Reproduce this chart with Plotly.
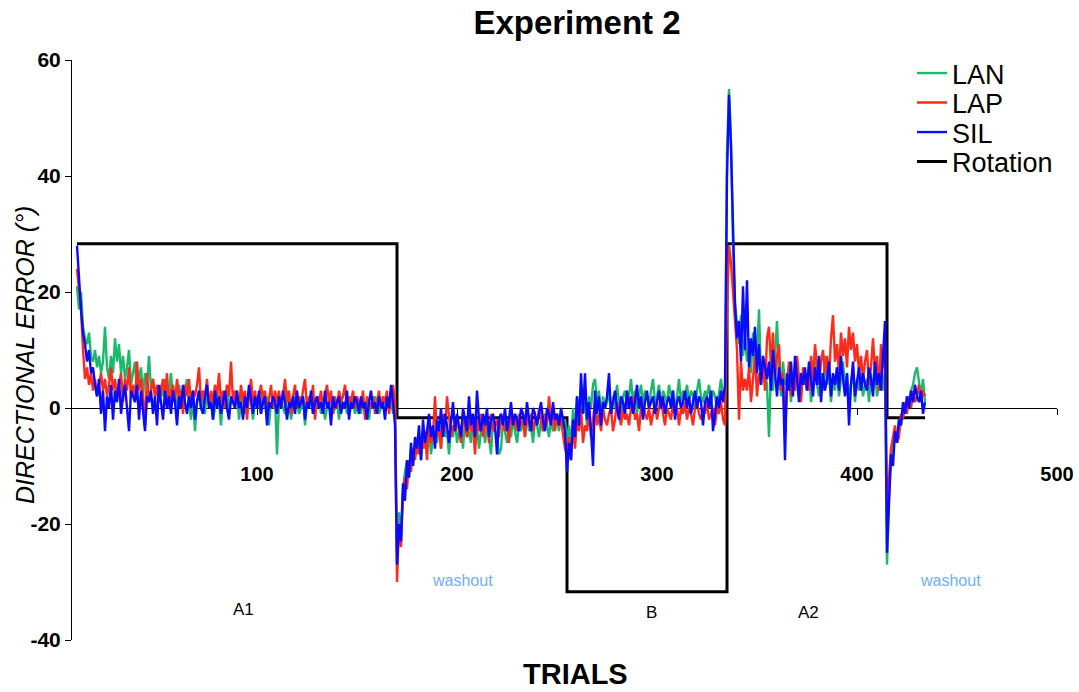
import plotly.graph_objects as go

# ---------------- data ----------------
phase_start = [10, 170, 255, 335, 415]   # first trial of A1, washout, B, A2, washout
phase_end = 434
rotation_deg = [28.3, -1.7, -31.7, 28.3, -1.7]

x_tickvals = [100, 200, 300, 400, 500]
y_tickvals = [-40, -20, 0, 20, 40, 60]
y_ticktext = ["-40", "-20", "0", "20", "40", "60"]

# LAN (green)
lan_a1 = [21, 17, 20, 14, 12, 11, 13, 9, 8, 10,
          7, 9, 6, 8, 14, 7, 5, 9, 6, 12,
          8, 11, 6, 9, 5, 7, 10, 4, 6, 8,
          3, 5, 7, 2, 6, 4, 9, 3, 5, 2,
          3, 1, 4, 2, 5, 0, 3, 6, 1, 2,
          -1, 4, 2, 0, 3, 5, 1, -2, 2, -4,
          1, 3, 0, 2, -1, 4, 1, 2, -2, 0,
          3, 1, -3, 2, 0, 4, -1, 1, 2, 0,
          3, -2, 1, 2, -1, 0, 3, 1, -2, 2,
          0, 1, -1, 3, 0, 2, -3, 1, 0, 2,
          -8, 1, 2, 0, -1, 3, 1, -2, 0, 2,
          1, -1, 0, 2, -3, 1, 0, 2, -1, 1,
          0, 2, -1, 1, -2, 0, 1, 2, -1, 0,
          1, -2, 2, 0, 1, -1, 0, 2, 1, -1,
          0, 1, -1, 2, 0, 1, -2, 1, 0, 2,
          1, -1, 0, 2, 1, 0, 1, 2, -1, 1]
lan_wo1 = [-25, -18, -22, -14, -11, -9, -12, -7, -10, -6,
           -8, -5, -9, -4, -7, -6, -3, -8, -5, -4,
           -6, -3, -7, -2, -5, -4, -8, -3, -5, -2,
           -6, -4, -3, -7, -2, -5, -4, -6, -1, -5,
           -3, -7, -4, -2, -6, -3, -5, -8, -2, -4,
           -5, -8, -7, -2, -4, -6, -3, -5, -2, -4,
           -6, -3, -4, -2, -5, -1, -4, -3, -6, -2,
           -3, -5, -2, -4, -1, -3, -5, -2, -4, -3,
           -2, -4, -1, -3, -2]
lan_b = [-6, -3, -7, 0, -4, 2, -2, 3, -1, 1,
         -3, 2, 0, 4, 5, 1, 3, -2, 2, 0,
         1, 3, -1, 2, 0, 4, 1, -1, 2, 3,
         0, 2, 5, 1, 3, -1, 2, 4, 1, 3,
         2, 0, 3, 5, 1, 2, 4, 0, 3, 2,
         1, 4, 2, 3, 0, 2, 5, 1, 3, 2,
         4, 1, 3, 2, 0, 3, 5, 2, 1, 3,
         2, 4, 1, 3, 2, 0, 3, 5, 2, 1]
lan_a2 = [44, 55, 46, 28, 18, 14, 11, 16, 9, 12,
          8, 10, 6, 13, 7, 9, 17, 5, 8, 6,
          4, -5, 7, 3, 9, 15, 6, 2, 8, 4,
          5, 7, 1, 6, 3, 8, 4, 2, 6, 5,
          3, 7, 1, 5, 8, 4, 2, 6, 3, 9,
          4, 6, 1, 5, 3, 7, 2, 5, 8, 3,
          6, 2, 4, 7, 1, 5, 3, 6, 2, 4,
          5, 1, 6, 3, 7, 2, 4, 8, 3, 6]
lan_wo2 = [-27, -15, -9, -6, -4, -5, -2, -3, 0, -1,
           2, 1, 3, 4, 6, 7, 4, 2, 5, 1]

# LAP (red)
lap_a1 = [24, 20, 17, 10, 5, 7, 4, 6, 3, 5,
          2, 4, 6, 3, 5, 2, 4, 7, 3, 5,
          2, 4, 6, 1, 5, 3, 7, 2, 4, 1,
          8, 3, 5, 2, -3, 6, 1, 3, 5, 2,
          4, 1, 3, 5, 2, 6, 0, 3, 4, 1,
          5, 2, 3, -1, 4, 2, 5, 1, 3, 2,
          4, 7, 1, 3, 2, 5, 0, 3, 1, 4,
          2, 6, 1, 3, 0, 4, 2, 8, 1, 3,
          2, 0, 4, 1, 3, -2, 2, 5, 1, 3,
          0, 2, 4, 1, 3, -1, 2, 4, 0, 3,
          1, 3, 0, 2, 5, 1, 3, -1, 2, 4,
          0, 2, 1, 3, 5, 0, 2, 1, 4, -2,
          2, 1, 3, 0, 2, 4, 1, 3, -1, 2,
          0, 3, 1, 2, 4, 0, 2, 1, 3, 0,
          2, 1, 0, 3, -2, 2, 1, 0, 2, -1,
          1, 3, 0, 2, 1, 3, -1, 2, 4, 1]
lap_wo1 = [-30, -20, -24, -15, -12, -14, -9, -11, -7, -9,
           -6, -8, -5, -7, -4, -9, -3, -6, -5, 2,
           -5, -3, -7, -1, -4, 2, -2, -5, -3, -4,
           -2, -4, -6, -1, -3, -5, -2, -4, -3, -8,
           -2, -4, -1, -5, -3, -2, -6, -1, -4, -3,
           -2, -5, -1, -3, -4, -2, -6, -1, -3, -2,
           -4, -1, -3, -2, -5, 0, -3, -1, -4, -2,
           -3, 0, -2, -4, -1, -3, 2, -2, -1, -4,
           -1, -3, -2, -5, -7]
lap_b = [-8, -5, -9, -3, -7, -2, -4, 0, -6, -3,
         -4, -1, -5, -2, 1, -3, -1, -4, 0, -2,
         -3, -1, 0, -4, -2, 1, -1, -3, 0, -2,
         -1, -3, 0, 2, -2, -1, -4, 0, 1, -1,
         -2, 0, -3, -1, 1, -2, 0, 2, -1, -3,
         0, -1, -2, 1, -1, 0, -3, 0, -1, 1,
         -2, 0, -1, -3, 0, 1, -1, -2, 0, -1,
         1, -2, -1, 0, -3, 0, -1, 1, -2, -3]
lap_a2 = [18, 28, 25, 20, 14, 10, -2, 8, 3, 5,
          3, 7, 1, 5, 9, 2, 6, 4, 8, 3,
          12, 14, 7, 13, 5, 9, 11, 3, 6, -5,
          4, 8, 2, 6, 3, 9, 5, 1, 7, 4,
          6, 3, 9, 5, 11, 7, 4, 8, 10, 6,
          9, 5, 12, 16, 8, 11, 6, 13, 9, 12,
          7, 14, 10, 13, 8, 11, 6, 9, 5, 8,
          10, 4, 7, 12, 6, 9, 3, 11, 7, 12]
lap_wo2 = [-20, -12, -7, -5, -3, -6, -5, -1, -2, 1,
           -1, 2, 0, 3, 1, 2, 4, 1, 3, 2]

# SIL (blue)
sil_a1 = [28, 22, 17, 13, 11, 8, 10, 6, 7, 4,
          2, 5, -1, 3, -4, 2, 0, 4, -2, 3,
          1, 5, -1, 2, 4, 0, -4, 3, 2, 1,
          4, -2, 3, 0, -4, 2, 1, 3, -1, 2,
          -3, 4, 1, -2, 3, 0, 2, -1, 3, 1,
          -3, 2, 0, 4, 1, -1, 2, 0, 3, -2,
          1, 3, 0, -1, 2, 4, 0, 1, -2, 3,
          0, 2, -1, 1, 3, 0, -2, 2, 1, 0,
          3, 0, 1, -2, 2, 0, 4, 1, -1, 2,
          0, 3, -1, 1, 2, -3, 1, 0, 2, 1,
          -1, 2, 0, 3, 1, -2, 1, 0, 2, -1,
          3, 0, 1, 2, -2, 1, 0, 3, -1, 1,
          2, 0, 1, -1, 3, 0, 1, -3, 2, 0,
          1, 2, -1, 1, 0, 3, -2, 1, 0, 2,
          1, -1, 2, 0, 1, -2, 1, 3, 0, 1,
          -1, 2, 0, 1, -2, 2, 0, 4, 1, -3]
sil_wo1 = [-27, -20, -23, -13, -16, -9, -12, -6, -10, -5,
           -7, -3, -9, -2, -6, -4, -1, -5, -3, -7,
           -2, -4, 0, -5, -1, -3, -6, -2, 1, -4,
           -1, -3, -5, 0, -2, -4, 2, -3, -1, -5,
           3, -2, -4, -1, -3, 0, -5, -2, -1, -3,
           -8, -2, -1, -3, 0, -4, -2, 1, -3, -1,
           -2, -4, 0, -1, -3, 1, -2, -4, 0, -1,
           -3, -1, 1, -2, -4, 0, -1, -3, 1, -2,
           -1, -3, 0, -2, -4]
sil_b = [-11, -6, -9, -2, -5, 2, -3, 6, -1, 6,
         -2, 1, -4, -10, 3, -1, 2, -3, 1, 0,
         2, 6, -1, 1, 3, 0, -2, 2, 1, -1,
         3, 0, 2, -1, 1, 4, 0, 2, -2, 1,
         3, 0, 1, 2, -1, 1, 3, 0, 2, -1,
         1, 2, 0, 3, -2, 1, 2, 0, 1, 3,
         0, 2, -1, 1, 3, 0, 2, 1, -3, 1,
         2, 0, 3, -4, -1, 2, 0, 3, 1, 4]
sil_a2 = [40, 54, 45, 32, 18, 12, 15, 8, 21, 10,
          22, 7, 12, 9, 14, 6, 11, 4, 9, 7,
          5, 8, 3, 10, 6, 2, 7, 4, 5, -9,
          6, 3, 8, 2, 9, 5, 1, 6, 4, 7,
          3, 8, 5, 2, 7, 4, 9, 1, 6, 3,
          5, 8, 2, 6, 4, 7, 3, 9, 5, 2,
          6, -3, 4, 8, 2, 5, 7, 3, 6, 4,
          3, 7, 5, 2, 8, 4, 6, 3, 9, 15]
sil_wo2 = [-25, -16, -8, -10, -4, -6, -2, -3, 1, -1,
           2, 0, 3, 1, 4, 2, 1, 3, -1, 1]


def assemble(segments):
    xs, ys = [], []
    for start, seg in zip(phase_start, segments):
        xs.extend(range(start, start + len(seg)))
        ys.extend(seg)
    return xs, ys


FONT = "Liberation Sans, Arial, sans-serif"
GREEN = "#1DB96A"
RED = "#FF2A1A"
BLUE = "#0A0AFF"

fig = go.Figure()

rot_x = phase_start + [phase_end]
rot_y = rotation_deg + [rotation_deg[-1]]
fig.add_trace(go.Scatter(x=rot_x, y=rot_y, mode="lines", line_shape="hv",
                         line=dict(color="black", width=3), name="Rotation",
                         legend="legend4"))

series = [
    ("LAN", GREEN, [lan_a1, lan_wo1, lan_b, lan_a2, lan_wo2], "legend"),
    ("LAP", RED, [lap_a1, lap_wo1, lap_b, lap_a2, lap_wo2], "legend2"),
    ("SIL", BLUE, [sil_a1, sil_wo1, sil_b, sil_a2, sil_wo2], "legend3"),
]
for name, color, segs, leg in series:
    xs, ys = assemble(segs)
    fig.add_trace(go.Scatter(x=xs, y=ys, mode="lines", name=name,
                             line=dict(color=color, width=2.4), legend=leg))

L = 72
R = 22
T = 60
B = 52
W = 1079
H = 692
pw = W - L - R
ph = H - T - B


def px2paper_x(px):
    return (px - L) / pw


def py2paper_y(py):
    return (H - B - py) / ph


legend_common = dict(xanchor="left", yanchor="middle", bgcolor="rgba(0,0,0,0)",
                     font=dict(family=FONT, size=27, color="black"))
fig.update_layout(
    width=W, height=H,
    margin=dict(l=L, r=R, t=T, b=B, autoexpand=False),
    paper_bgcolor="white", plot_bgcolor="white",
    font=dict(family=FONT, color="black"),
    title=dict(text="Experiment 2", x=577 / W, xref="container", xanchor="center",
               y=1 - 22 / H, yref="container", yanchor="middle",
               font=dict(family=FONT, size=33, weight="bold", color="black")),
    legend=dict(x=px2paper_x(912), y=py2paper_y(73.5), **legend_common),
    legend2=dict(x=px2paper_x(912), y=py2paper_y(103), **legend_common),
    legend3=dict(x=px2paper_x(912), y=py2paper_y(132.5), **legend_common),
    legend4=dict(x=px2paper_x(912), y=py2paper_y(162), **legend_common),
    xaxis=dict(range=[7.5, 500], anchor="free", position=0.4,
               showline=True, linecolor="black", linewidth=1,
               ticks="outside", ticklen=6, tickcolor="black",
               tickvals=x_tickvals, ticktext=[str(v) for v in x_tickvals],
               tickfont=dict(family=FONT, size=20, weight="bold", color="black"),
               ticklabelstandoff=42,
               showgrid=False, zeroline=False, layer="below traces"),
    yaxis=dict(range=[-40, 60], showline=True, linecolor="black", linewidth=1,
               ticks="outside", ticklen=6, tickcolor="black",
               tickvals=y_tickvals, ticktext=y_ticktext,
               tickfont=dict(family=FONT, size=21, weight="bold", color="black"),
               showgrid=False, zeroline=False),
    showlegend=True,
)

ann = [
    dict(text="DIRECTIONAL ERROR (°)", xref="paper", yref="paper",
         x=px2paper_x(25), y=py2paper_y(355), textangle=-90,
         xanchor="center", yanchor="middle", showarrow=False,
         font=dict(family=FONT, size=25, style="italic", color="black")),
    dict(text="TRIALS", xref="paper", yref="paper",
         x=px2paper_x(575), y=py2paper_y(674), xanchor="center", yanchor="middle",
         showarrow=False, font=dict(family=FONT, size=29, weight="bold", color="black")),
]
phase_labels = [("washout", 202.5, -29.7, "#6EAEFF", 16),
                ("washout", 446.5, -29.7, "#6EAEFF", 16),
                ("A1", 93, -34.8, "black", 17),
                ("B", 297, -35.2, "black", 17),
                ("A2", 375.5, -35.2, "black", 17)]
for txt, xv, yv, col, sz in phase_labels:
    ann.append(dict(text=txt, x=xv, y=yv, xref="x", yref="y", showarrow=False,
                    xanchor="center", yanchor="middle",
                    font=dict(family=FONT, size=sz, color=col)))
fig.update_layout(annotations=ann)

fig.write_html("out.html")
